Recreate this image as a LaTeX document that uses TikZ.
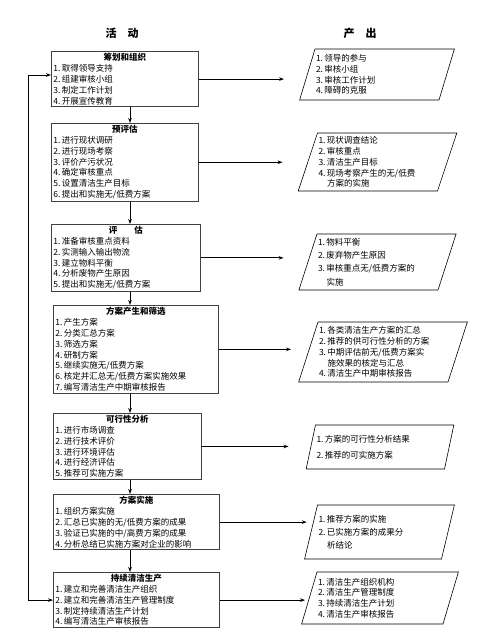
\documentclass[tikz,border=0pt]{standalone}
\usepackage{fontspec}
\newfontfamily\cjk{Noto Sans CJK SC}
\usepackage{tikz}
\usetikzlibrary{arrows.meta,positioning,shapes.geometric,calc}
\tikzset{
  abox/.style={draw=black!75,line width=0.9pt,anchor=north west,align=left,inner sep=2pt,text width=#1},
  obox/.style={trapezium,trapezium left angle=70,trapezium right angle=110,trapezium stretches body,
    draw=black,line width=0.6pt,align=left,inner sep=1pt},
  varr/.style={-{Stealth[length=5pt,width=3.6pt]},line width=0.8pt},
  fbarr/.style={{Stealth[length=5pt,width=3.6pt]}-{Stealth[length=5pt,width=3.6pt]},line width=0.8pt},
  hd/.style={font=\cjk\bfseries\fontsize{11}{13}\selectfont}
}
\newcommand{\boxhead}[1]{\hfill\textbf{#1}\hfill\null}

\begin{document}
\begin{tikzpicture}[x=1pt,y=-1pt,font=\cjk\fontsize{8.5}{10.8}\selectfont]
  \useasboundingbox (0,0) rectangle (496,640);
  \node[hd] (hact) at (122,33) {活\hspace{1em}动};
  \node[hd] (hout) at (360,33) {产\hspace{1em}出};
  % activities
  \node[abox=143pt] (a1) at (51,51) {\boxhead{筹划和组织}\\ 1.\,取得领导支持\\ 2.\,组建审核小组\\ 3.\,制定工作计划\\ 4.\,开展宣传教育};
  \node[abox=143pt] (a2) at (51,123) {\boxhead{预评估}\\ 1.\,进行现状调研\\ 2.\,进行现场考察\\ 3.\,评价产污状况\\ 4.\,确定审核重点\\ 5.\,设置清洁生产目标\\ 6.\,提出和实施无/低费方案};
  \node[abox=145pt] (a3) at (51,224) {\boxhead{评\hspace{2em}估}\\ 1.\,准备审核重点资料\\ 2.\,实测输入输出物流\\ 3.\,建立物料平衡\\ 4.\,分析废物产生原因\\ 5.\,提出和实施无/低费方案};
  \node[abox=161pt] (a4) at (53,305) {\boxhead{方案产生和筛选}\\ 1.\,产生方案\\ 2.\,分类汇总方案\\ 3.\,筛选方案\\ 4.\,研制方案\\ 5.\,继续实施无/低费方案\\ 6.\,核定并汇总无/低费方案实施效果\\ 7.\,编写清洁生产中期审核报告};
  \node[abox=144pt] (a5) at (53,413) {\boxhead{可行性分析}\\ 1.\,进行市场调查\\ 2.\,进行技术评价\\ 3.\,进行环境评估\\ 4.\,进行经济评估\\ 5.\,推荐可实施方案};
  \node[abox=162pt] (a6) at (53,494) {\boxhead{方案实施}\\ 1.\,组织方案实施\\ 2.\,汇总已实施的无/低费方案的成果\\ 3.\,验证已实施的中/高费方案的成果\\ 4.\,分析总结已实施方案对企业的影响};
  \node[abox=162pt] (a7) at (53,572) {\boxhead{持续清洁生产}\\ 1.\,建立和完善清洁生产组织\\ 2.\,建立和完善清洁生产管理制度\\ 3.\,制定持续清洁生产计划\\ 4.\,编写清洁生产审核报告};
  % outputs
  \node[obox,text width=122pt,minimum height=51pt] (o1) at (377,74.5) {1.\,领导的参与\\ 2.\,审核小组\\ 3.\,审核工作计划\\ 4.\,障碍的克服};
  \node[obox,text width=118pt,minimum height=58pt] (o2) at (377.5,162) {1.\,现状调查结论\\ 2.\,审核重点\\ 3.\,清洁生产目标\\ 4.\,现场考察产生的无/低费\\ \hspace*{8.5pt}方案的实施};
  \node[obox,text width=119pt,minimum height=56pt] (o3) at (377.5,262) {1.\,物料平衡\\[2.5pt] 2.\,废弃物产生原因\\[2.5pt] 3.\,审核重点无/低费方案的\\[2.5pt] \hspace*{8.5pt}实施};
  \node[obox,text width=128pt,minimum height=60pt] (o4) at (383,352) {1.\,各类清洁生产方案的汇总\\ 2.\,推荐的供可行性分析的方案\\ 3.\,中期评估前无/低费方案实\\ \hspace*{8.5pt}施效果的核定与汇总\\ 4.\,清洁生产中期审核报告};
  \node[obox,text width=127pt,minimum height=44pt] (o5) at (380,447) {1.\,方案的可行性分析结果\\[5pt] 2.\,推荐的可实施方案};
  \node[obox,text width=122pt,minimum height=54pt] (o6) at (379.5,532) {1.\,推荐方案的实施\\[2pt] 2.\,已实施方案的成果分\\[2pt] \hspace*{8.5pt}析结论};
  \node[obox,text width=124pt,minimum height=52pt] (o7) at (380,598) {1.\,清洁生产组织机构\\ 2.\,清洁生产管理制度\\ 3.\,持续清洁生产计划\\ 4.\,清洁生产审核报告};
  % connectors
  \coordinate (spine) at (130,0);
  \foreach \a/\b in {a1/a2,a2/a3,a3/a4,a4/a5,a5/a6,a6/a7}
    \draw[varr] (\a.south -| spine) -- (\b.north -| spine);
  \foreach \n/\s in {1/23pt,2/25pt,3/24pt,4/17pt,5/22pt,6/4pt,7/4pt}
    \draw[varr,shorten >=\s] (a\n.east) -- (a\n.east -| o\n.west);
  \coordinate (fb) at (28,75);
  \draw[fbarr] (a7.west) -| (fb) -- (fb -| a1.west);
\end{tikzpicture}
\end{document}
